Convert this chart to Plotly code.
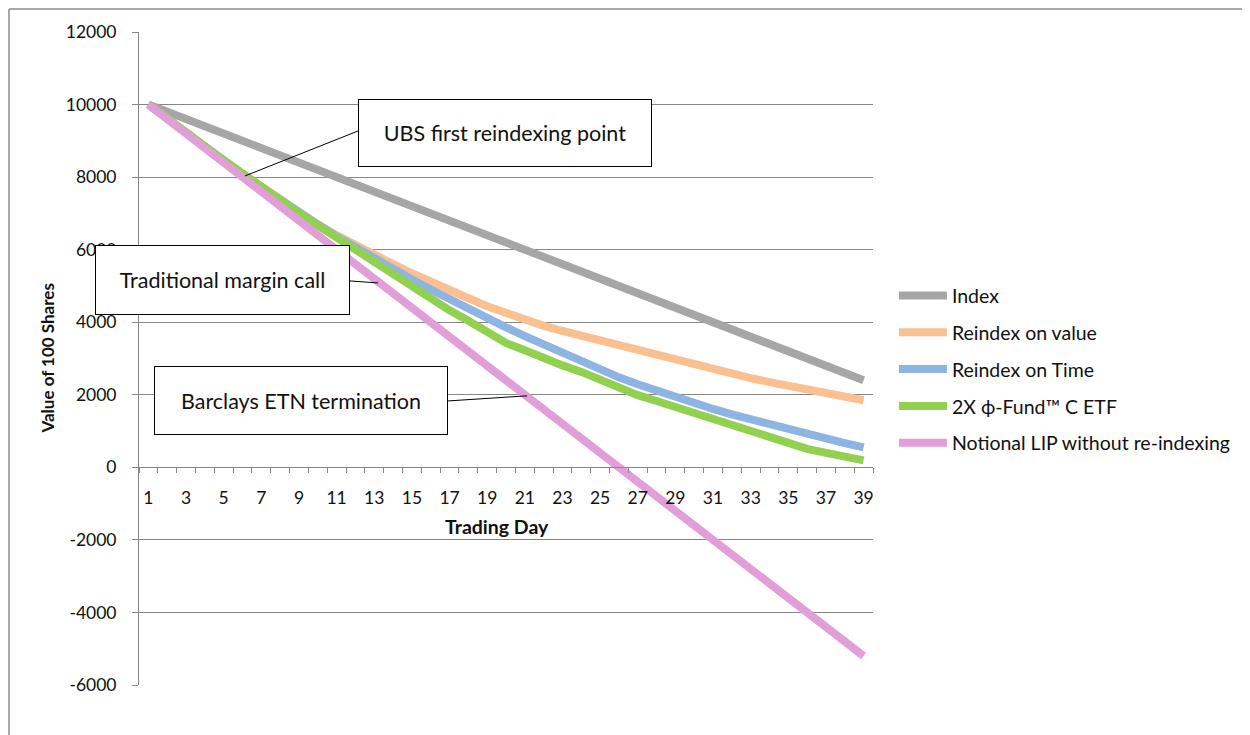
import plotly.graph_objects as go

days = list(range(1, 40))
tick_days = list(range(1, 40, 2))
y_ticks = [-6000, -4000, -2000, 0, 2000, 4000, 6000, 8000, 10000, 12000]
y_tick_labels = ["-6000", "-4000", "-2000", "0", "2000", "4000", "6000", "8000", "10000", "12000"]

index_vals = [10000, 9800, 9600, 9400, 9200, 9000, 8800, 8600, 8400, 8200,
              8000, 7800, 7600, 7400, 7200, 7000, 6800, 6600, 6400, 6200,
              6000, 5800, 5600, 5400, 5200, 5000, 4800, 4600, 4400, 4200,
              4000, 3800, 3600, 3400, 3200, 3000, 2800, 2600, 2400]
reindex_value = [10000, 9600, 9208, 8824, 8449, 8082, 7722, 7371, 7029, 6700,
                 6400, 6120, 5870, 5600, 5350, 5100, 4880, 4660, 4440, 4250,
                 4060, 3900, 3760, 3630, 3480, 3330, 3200, 3060, 2930, 2800,
                 2690, 2570, 2460, 2350, 2250, 2130, 2030, 1940, 1850]
reindex_time = [10000, 9600, 9208, 8824, 8449, 8082, 7722, 7371, 7029, 6694,
                6367, 6060, 5760, 5470, 5180, 4900, 4630, 4370, 4110, 3860,
                3620, 3380, 3150, 2910, 2690, 2480, 2290, 2110, 1930, 1770,
                1610, 1460, 1320, 1180, 1050, 920, 790, 670, 550]
phi_fund = [10000, 9600, 9230, 8850, 8470, 8090, 7720, 7360, 7010, 6670,
            6330, 5990, 5660, 5330, 5000, 4650, 4330, 4040, 3720, 3430,
            3230, 3010, 2810, 2630, 2400, 2160, 1990, 1830, 1670, 1490,
            1310, 1140, 990, 830, 660, 510, 400, 310, 190]
notional_lip = [10000, 9600, 9200, 8800, 8400, 8000, 7600, 7200, 6800, 6400,
                6000, 5600, 5200, 4800, 4400, 4000, 3600, 3200, 2800, 2400,
                2000, 1600, 1200, 800, 400, 0, -400, -800, -1200, -1600,
                -2000, -2400, -2800, -3200, -3600, -4000, -4400, -4800, -5200]

series = [
    ("Index", index_vals, "#A6A6A6"),
    ("Reindex on value", reindex_value, "#FAC090"),
    ("Reindex on Time", reindex_time, "#8EB4E3"),
    ("2X \u03d5-Fund\u2122 C ETF", phi_fund, "#92D050"),
    ("Notional LIP without re-indexing", notional_lip, "#E29ED8"),
]

callouts = [
    ("UBS first reindexing point", 0.4986, 0.8453, 292, 66),
    ("Traditional margin call", 0.1138, 0.6202, 253, 68),
    ("Barclays ETN termination", 0.2207, 0.4357, 292, 67),
]
leaders = [
    (12.14, 9272, 6.13, 8032),
    (11.71, 5138, 13.20, 5083),
    (16.92, 1830, 21.12, 1971),
]

FONT = "Lato"
GRID = "#868686"
TXT = "#111111"

fig = go.Figure()
for i, (name, vals, color) in enumerate(series):
    fig.add_trace(go.Scatter(
        x=days, y=vals, name=name, mode="lines",
        line=dict(color=color, width=8),
        legendgroup=f"g{i}",
    ))

fig.update_layout(
    width=1242, height=727,
    margin=dict(l=131, r=377, t=24, b=50),
    paper_bgcolor="white", plot_bgcolor="white",
    font=dict(family=FONT, size=17, color=TXT),
    showlegend=True,
    legend=dict(
        x=1.0285, xanchor="left", y=0.626, yanchor="top",
        font=dict(family=FONT, size=19.5, color=TXT),
        itemwidth=48, tracegroupgap=8.5, traceorder="grouped",
        bgcolor="rgba(0,0,0,0)",
    ),
    xaxis=dict(
        range=[0.5, 39.5], anchor="free", position=1/3,
        tickmode="array", tickvals=tick_days,
        ticktext=[str(d) for d in tick_days],
        ticks="outside", ticklen=5, tickcolor="rgba(0,0,0,0)",
        ticklabelstandoff=10,
        showgrid=False, zeroline=False,
        showline=True, linecolor=GRID, linewidth=1,
        minor=dict(tick0=0.5, dtick=1, ticks="outside", ticklen=5,
                   tickcolor=GRID, tickwidth=1, showgrid=False),
        tickfont=dict(family=FONT, size=17.5, color=TXT),
    ),
    yaxis=dict(
        range=[-6000, 12000],
        tickmode="array", tickvals=y_ticks, ticktext=y_tick_labels,
        showgrid=True, gridcolor=GRID, gridwidth=1,
        zeroline=False,
        showline=True, linecolor=GRID, linewidth=1,
        ticks="outside", ticklen=6, tickcolor=GRID,
        ticklabelstandoff=12,
        tickfont=dict(family=FONT, size=17.5, color=TXT),
    ),
)

annotations = []
for text, ax_, ay_, w, h in callouts:
    annotations.append(dict(
        text=text, x=ax_, y=ay_, xref="paper", yref="paper",
        xanchor="center", yanchor="middle", showarrow=False,
        width=w, height=h, bgcolor="white",
        bordercolor="#000000", borderwidth=1, borderpad=0,
        font=dict(family=FONT, size=21.5, color=TXT),
    ))
annotations.append(dict(
    text="<b>Trading Day</b>", x=0.4877, y=0.242, xref="paper", yref="paper",
    xanchor="center", yanchor="middle", showarrow=False,
    font=dict(family=FONT, size=19.5, color=TXT),
))
annotations.append(dict(
    text="<b>Value of 100 Shares</b>", x=-0.1253, y=0.5, xref="paper", yref="paper",
    xanchor="center", yanchor="middle", showarrow=False, textangle=-90,
    font=dict(family=FONT, size=17, color=TXT),
))
fig.update_layout(annotations=annotations)

shapes = []
for x0, y0, x1, y1 in leaders:
    shapes.append(dict(type="line", xref="x", yref="y", x0=x0, y0=y0, x1=x1, y1=y1,
                       line=dict(color="#000000", width=1), layer="above"))
# outer chart-area frame (top and left edges are the visible parts)
shapes.append(dict(type="line", xref="paper", yref="paper",
                   x0=-0.1771, x1=1.6, y0=1.0352, y1=1.0352,
                   line=dict(color="#8C8C8C", width=1.5), layer="below"))
shapes.append(dict(type="line", xref="paper", yref="paper",
                   x0=-0.1771, x1=-0.1771, y0=-0.1, y1=1.0352,
                   line=dict(color="#8C8C8C", width=1.5), layer="below"))
fig.update_layout(shapes=shapes)

fig.write_html("out.html")
